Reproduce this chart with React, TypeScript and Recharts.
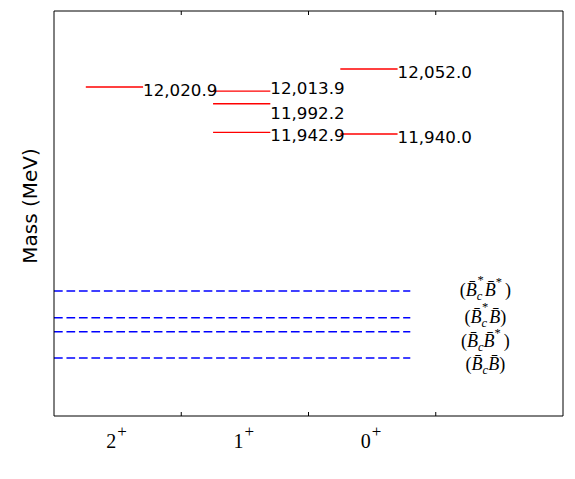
import React from "react";
import { ComposedChart, XAxis, YAxis, ReferenceLine, Scatter } from "recharts";

// J^P of each column, left to right
const spinLabels = ["2", "1", "0"];
// predicted masses (MeV) per column
const spin2Masses = [12020.9];
const spin1Masses = [12013.9, 11992.2, 11942.9];
const spin0Masses = [12052.0, 11940.0];
// two-meson thresholds (MeV), top to bottom
const thresholdMasses = [11669.5, 11623.5, 11599.2, 11553.8];
// [B̄c starred, B̄ starred]
const thresholdStars: [boolean, boolean][] = [
  [true, true],
  [true, false],
  [false, true],
  [false, false],
];
const xTicks = [0.5, 1, 1.5, 2, 2.5, 3];
const massDomain = [11454, 12152];

const W = 575;
const H = 479;
const LABEL_X = 3.39;
// small pixel nudges so labels don't collide
const thresholdShift = [0, 0, 10, 7];
const levelShift = [[0], [-6, 6.5, 0], [0, 0]];

const levels = [spin2Masses, spin1Masses, spin0Masses];

const fmt = (v: number) =>
  v.toLocaleString("en-US", { minimumFractionDigits: 1, maximumFractionDigits: 1 });

function BottomTick({ x, y, payload }: any) {
  const v = payload.value;
  if (Number.isInteger(v)) {
    return <line x1={x} y1={y} x2={x} y2={y - 4} stroke="#000" strokeWidth={1} />;
  }
  return (
    <text x={x - 1} y={y + 32} textAnchor="middle" fontFamily="Liberation Serif" fontSize={20} fill="#000">
      <tspan>{spinLabels[Math.floor(v)]}</tspan>
      <tspan fontSize={17} dx={1} dy={-11} fontWeight={300}>+</tspan>
    </text>
  );
}

function TopTick({ x, y }: any) {
  return <line x1={x} y1={y} x2={x} y2={y + 4} stroke="#000" strokeWidth={1} />;
}

function ThresholdLabel({ cx, cy, idx }: any) {
  const [cStar, bStar] = thresholdStars[idx];
  const base = cy + thresholdShift[idx] + 5;
  return (
    <text x={cx} y={base} textAnchor="middle" fontFamily="Liberation Serif" fontSize={18} fill="#000">
      <tspan>(</tspan>
      <tspan fontStyle="italic">{"B\u0304"}</tspan>
      <tspan fontStyle="italic" fontSize={12.5} dy={4}>c</tspan>
      {cStar ? (
        <>
          <tspan fontSize={12.5} dx={-5} dy={-16}>*</tspan>
          <tspan fontStyle="italic" dx={1} dy={12}>{"B\u0304"}</tspan>
        </>
      ) : (
        <tspan fontStyle="italic" dy={-4}>{"B\u0304"}</tspan>
      )}
      {bStar ? (
        <>
          <tspan fontSize={12.5} dy={-10}>*</tspan>
          <tspan dx={3} dy={10}>)</tspan>
        </>
      ) : (
        <tspan>)</tspan>
      )}
    </text>
  );
}

function LevelLabel({ cx, cy, payload }: any) {
  return (
    <text
      x={cx}
      y={cy + 9 + levelShift[payload.c][payload.j]}
      fontFamily="DejaVu Sans"
      fontSize={16.7}
      fill="#000"
    >
      {fmt(payload.y)}
    </text>
  );
}

export default function App() {
  const thresholdData = thresholdMasses.map((m, i) => ({ x: LABEL_X, y: m, idx: i }));
  const levelData = levels.flatMap((col, c) => col.map((m, j) => ({ x: c + 0.7, y: m, c, j })));
  return (
    <div style={{ position: "absolute", left: 0, top: 0, width: W, height: H, background: "#fff" }}>
      <ComposedChart width={W} height={H} margin={{ top: 10, right: 11, bottom: 62, left: 53 }}>
        <XAxis
          xAxisId={0}
          type="number"
          dataKey="x"
          domain={[0, 4]}
          allowDataOverflow
          ticks={xTicks}
          interval={0}
          height={1}
          tickSize={0}
          tickMargin={0}
          tickLine={false}
          tick={BottomTick}
          axisLine={{ stroke: "#000", strokeWidth: 1 }}
        />
        <XAxis
          xAxisId="top"
          orientation="top"
          type="number"
          dataKey="x"
          domain={[0, 4]}
          allowDataOverflow
          ticks={[1, 2, 3]}
          interval={0}
          height={1}
          tickSize={0}
          tickMargin={0}
          tickLine={false}
          tick={TopTick}
          axisLine={{ stroke: "#000", strokeWidth: 1 }}
        />
        <YAxis
          yAxisId={0}
          type="number"
          dataKey="y"
          domain={massDomain}
          allowDataOverflow
          width={1}
          tick={false}
          tickLine={false}
          axisLine={{ stroke: "#000", strokeWidth: 1 }}
          label={() => (
            <text
              transform="translate(37,206) rotate(-90)"
              textAnchor="middle"
              fontFamily="DejaVu Sans"
              fontSize={20}
              fill="#000"
            >
              Mass (MeV)
            </text>
          )}
        />
        <YAxis
          yAxisId="right"
          orientation="right"
          type="number"
          dataKey="y"
          domain={massDomain}
          allowDataOverflow
          width={1}
          tick={false}
          tickLine={false}
          axisLine={{ stroke: "#000", strokeWidth: 1 }}
        />

        {thresholdMasses.map((m, i) => (
          <ReferenceLine
            key={`th-${i}`}
            segment={[
              { x: 0, y: m },
              { x: 2.8, y: m },
            ]}
            stroke="#0000ff"
            strokeWidth={1.5}
            strokeDasharray="8.7 3.77"
          />
        ))}

        {levels.map((col, c) =>
          col.map((m, j) => (
            <ReferenceLine
              key={`lv-${c}-${j}`}
              segment={[
                { x: c + 0.25, y: m },
                { x: c + 0.7, y: m },
              ]}
              stroke="#ff0000"
              strokeWidth={1.4}
            />
          ))
        )}

        <Scatter
          data={thresholdData}
          dataKey="y"
          isAnimationActive={false}
          shape={(p: any) => <ThresholdLabel cx={p.cx} cy={p.cy} idx={p.payload.idx} />}
        />
        <Scatter
          data={levelData}
          dataKey="y"
          xAxisId="top"
          yAxisId="right"
          isAnimationActive={false}
          shape={(p: any) => <LevelLabel cx={p.cx} cy={p.cy} payload={p.payload} />}
        />
      </ComposedChart>
    </div>
  );
}
